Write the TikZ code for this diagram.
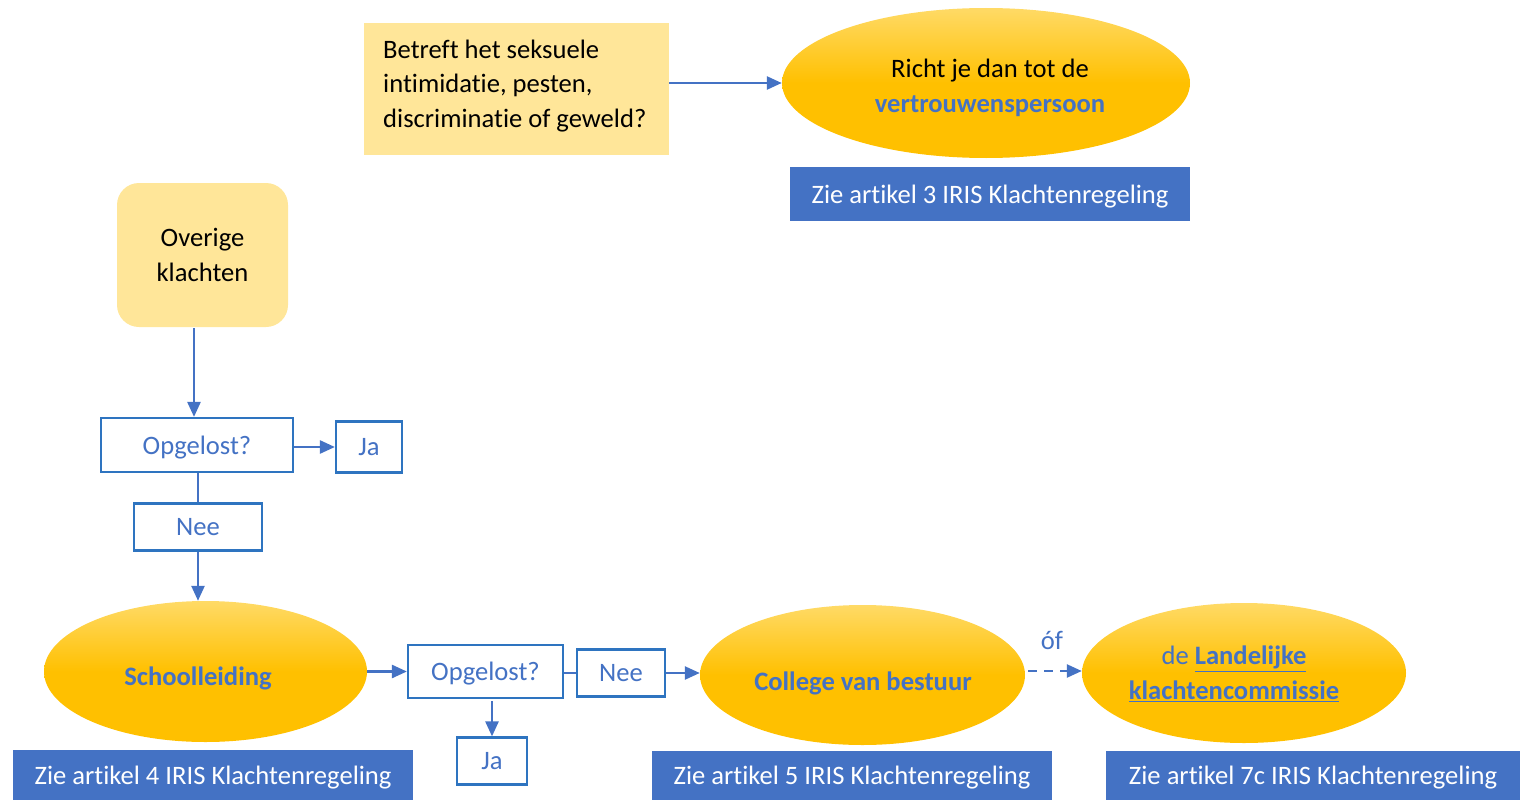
\documentclass[tikz,border=0pt]{standalone}
\usepackage{fontspec}
\setmainfont{Carlito}[Ligatures=NoCommon]
\usetikzlibrary{shapes.geometric,arrows.meta}
\definecolor{lyel}{HTML}{FFE699}
\definecolor{bfill}{HTML}{4472C4}
\definecolor{bline}{HTML}{2E74C0}
\definecolor{btext}{HTML}{4472C4}
\definecolor{gtop}{HTML}{FFDA66}
\definecolor{gbot}{HTML}{FFC000}
\begin{document}
\begin{tikzpicture}[x=1pt,y=-1pt,
  every node/.style={font=\fontsize{26.6}{34.5}\selectfont, inner sep=0pt},
  ybox/.style={fill=lyel, draw=none},
  oval/.style={ellipse, draw=none, top color=gtop, bottom color=gbot, middle color=gbot},
  bluebar/.style={fill=bfill, text=white, draw=none, text depth=0pt},
  qbox/.style={draw=bline, line width=2.2pt, fill=white, text=btext, text depth=0pt},
  conn/.style={draw=btext, line width=2.5pt},
  arr/.style={conn, -{Triangle[length=15pt,width=13pt]}},
]
\useasboundingbox (0,0) rectangle (1520,800);

% top part
\node[ybox, minimum width=305pt, minimum height=132pt] (q1) at (516.5,89) {};
\node[anchor=west, align=left] (q1t) at (383,86) {Betreft het seksuele\\intimidatie, pesten,\\discriminatie of geweld?};
\node[oval, minimum width=408pt, minimum height=150pt] (vp) at (986,83) {};
\node[align=center] (vpt) at (990,88) {Richt je dan tot de\\\textcolor{btext}{\textbf{vertrouwenspersoon}}};
\node[bluebar, minimum width=400pt, minimum height=54pt] (a3) at (990,194) {Zie artikel 3 IRIS Klachtenregeling};
\draw[arr] (q1.east |- vp.west) -- (vp.west);

% left column
\node[ybox, rounded corners=22pt, minimum width=171pt, minimum height=144pt, align=center] (ov) at (202.5,255) {Overige\\klachten};
\node[qbox, minimum width=192pt, minimum height=54pt] (op1) at (197,445) {Opgelost?};
\node[qbox, minimum width=66pt, minimum height=51pt] (ja1) at (369,447) {Ja};
\node[qbox, minimum width=128pt, minimum height=47pt] (nee1) at (198,527) {Nee};
\node[oval, minimum width=323pt, minimum height=141pt] (sl) at (205.5,671.5) {};
\node[text=btext, font=\fontsize{26.6}{34.5}\selectfont\bfseries] (slt) at (198,678) {Schoolleiding};
\node[bluebar, minimum width=400pt, minimum height=50pt] (a4) at (213,775) {Zie artikel 4 IRIS Klachtenregeling};

\coordinate (ovb) at (194,328);
\draw[arr] (ovb) -- (ovb |- op1.north);
\draw[arr] (op1.east |- ja1.west) -- (ja1.west);
\draw[conn] (op1.south -| nee1.north) -- (nee1.north);
\draw[arr] (nee1.south) -- (nee1.south |- sl.north);

% bottom row
\node[qbox, minimum width=155pt, minimum height=53pt] (op2) at (485.5,671.5) {Opgelost?};
\node[qbox, minimum width=88pt, minimum height=47pt] (nee2) at (621,673) {Nee};
\node[qbox, minimum width=70pt, minimum height=47pt] (ja2) at (492,761) {Ja};
\node[oval, minimum width=325pt, minimum height=140pt] (cvb) at (862.5,675) {};
\node[text=btext, font=\fontsize{26.6}{34.5}\selectfont\bfseries] (cvbt) at (863,683) {College van bestuur};
\node[bluebar, minimum width=400pt, minimum height=49pt] (a5) at (852,775.5) {Zie artikel 5 IRIS Klachtenregeling};
\node[oval, minimum width=324pt, minimum height=140pt] (lk) at (1244,673) {};
\node[text=btext, align=center] (lkt) at (1234,674) {de \textbf{\underline{Landelijke}}\\\textbf{\underline{klachtencommissie}}};
\node[bluebar, minimum width=414pt, minimum height=49pt] (a7) at (1313,775.5) {Zie artikel 7c IRIS Klachtenregeling};

\draw[arr] (sl.east |- op2.west) -- (op2.west);
\draw[conn] (op2.east |- nee2.west) -- (nee2.west);
\draw[arr] (nee2.east) -- (nee2.east -| cvb.west);
\draw[arr] (op2.south -| ja2.north) ++(0,2) -- (ja2.north);
\coordinate (dstart) at (1028,671);
\draw[arr, dash pattern=on 9pt off 7pt] (dstart) -- (dstart -| lk.west);
\node[text=btext] (of) at (1052,640) {óf};
\end{tikzpicture}
\end{document}
